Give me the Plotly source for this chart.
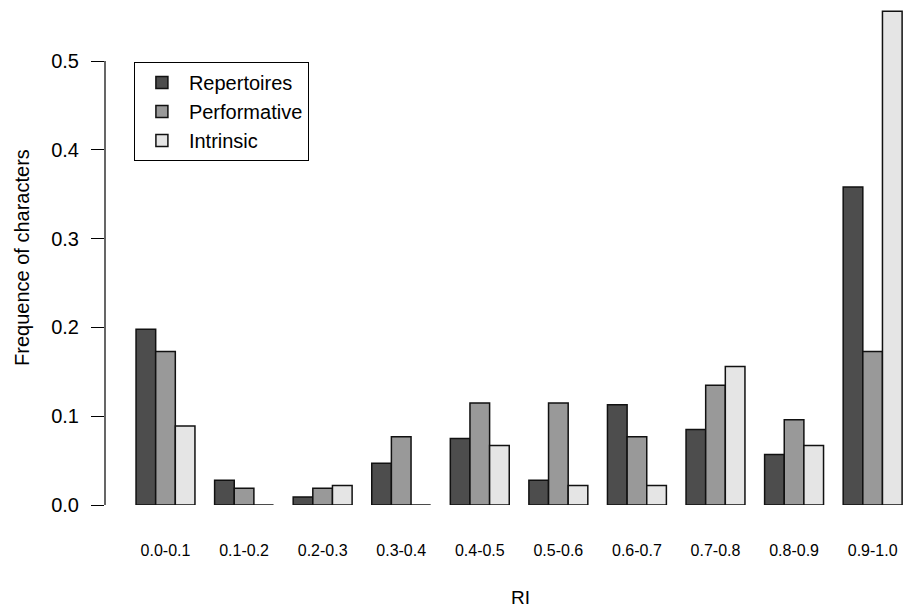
import plotly.graph_objects as go

# RI classes on the x axis
ri_classes = ["0.0-0.1", "0.1-0.2", "0.2-0.3", "0.3-0.4", "0.4-0.5",
              "0.5-0.6", "0.6-0.7", "0.7-0.8", "0.8-0.9", "0.9-1.0"]

# Frequency of characters per RI class, for each character type
repertoires = [0.198, 0.028, 0.009, 0.047, 0.075, 0.028, 0.113, 0.085, 0.057, 0.358]
performative = [0.173, 0.019, 0.019, 0.077, 0.115, 0.115, 0.077, 0.135, 0.096, 0.173]
intrinsic = [0.089, 0.0, 0.022, 0.0, 0.067, 0.022, 0.022, 0.156, 0.067, 0.556]

y_ticks = [0.0, 0.1, 0.2, 0.3, 0.4, 0.5]

series = [
    ("Repertoires", repertoires, "#4d4d4d"),
    ("Performative", performative, "#999999"),
    ("Intrinsic", intrinsic, "#e5e5e5"),
]

FONT = "Liberation Sans, Arial, sans-serif"

fig = go.Figure()
for name, values, color in series:
    fig.add_trace(go.Bar(
        x=list(range(len(ri_classes))),
        y=values,
        name=name,
        marker=dict(color=color, line=dict(color="#111111", width=1.5)),
    ))

fig.update_layout(
    width=908, height=610,
    margin=dict(l=105, r=0, t=5, b=105),
    paper_bgcolor="white", plot_bgcolor="white",
    barmode="group", bargap=0.25, bargroupgap=0,
    font=dict(family=FONT, color="black"),
    showlegend=True,
    legend=dict(
        x=0.036, y=0.886, xanchor="left", yanchor="top",
        bgcolor="white", bordercolor="black", borderwidth=1,
        font=dict(size=20, family=FONT, color="black"),
        itemwidth=44, traceorder="normal",
    ),
    xaxis=dict(
        range=[-0.770, 9.450],
        tickmode="array",
        tickvals=list(range(len(ri_classes))),
        ticktext=ri_classes,
        ticks="", showline=False, showgrid=False, zeroline=False,
        tickfont=dict(size=16, family=FONT, color="black"),
        ticklabelstandoff=34,
    ),
    yaxis=dict(
        range=[0, 0.5631],
        tickmode="array",
        tickvals=y_ticks,
        ticktext=[f"{v:.1f}" for v in y_ticks],
        ticks="outside", ticklen=13, tickwidth=1.2, tickcolor="black",
        showline=False, showgrid=False, zeroline=False,
        tickfont=dict(size=20, family=FONT, color="black"),
        ticklabelstandoff=8,
    ),
    shapes=[
        # y axis line spanning the tick range only
        dict(type="line", xref="paper", yref="y",
             x0=0, x1=0, y0=y_ticks[0], y1=y_ticks[-1],
             line=dict(color="black", width=1.2)),
    ],
    annotations=[
        dict(text="Frequence of characters", xref="paper", yref="paper",
             x=-0.1034, y=0.496, textangle=-90, showarrow=False,
             xanchor="center", yanchor="middle",
             font=dict(size=20, family=FONT, color="black")),
        dict(text="RI", xref="paper", yref="paper",
             x=0.517, y=-0.184, showarrow=False,
             xanchor="center", yanchor="middle",
             font=dict(size=19, family=FONT, color="black")),
    ],
)

fig.write_html("out.html")
